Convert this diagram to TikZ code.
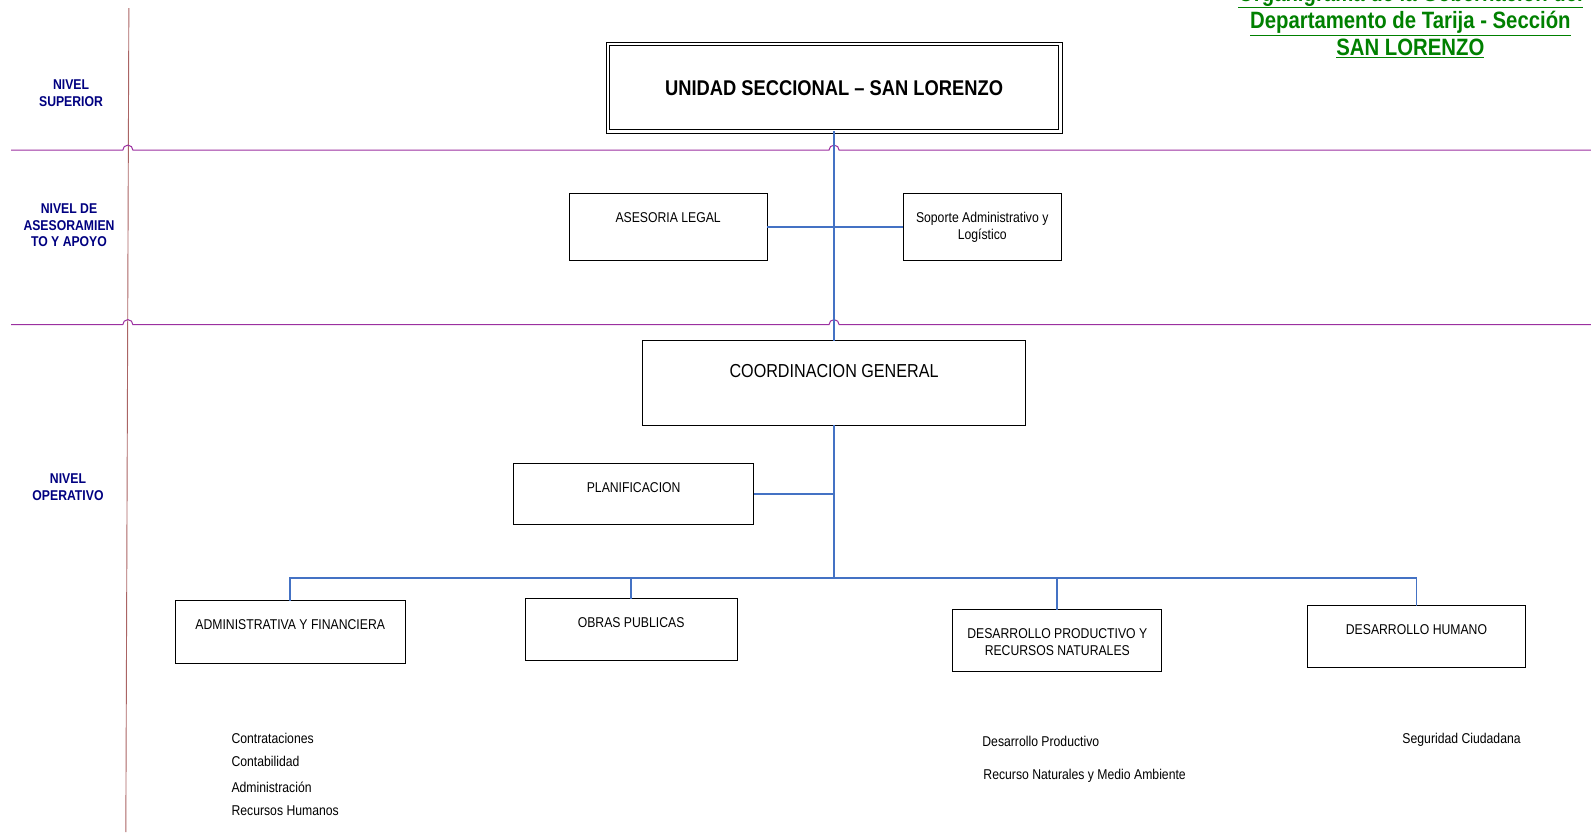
\documentclass[tikz,border=0pt]{standalone}
\usepackage{fontspec}
\setmainfont{Liberation Sans}[FakeStretch=0.86]
\usepackage{xcolor}
\usetikzlibrary{calc}
\definecolor{linkblue}{RGB}{68,114,196}
\definecolor{levelline}{RGB}{155,48,160}
\definecolor{sideline}{RGB}{170,100,100}
\definecolor{levelnavy}{RGB}{0,0,128}
\definecolor{titlegreen}{RGB}{0,128,0}

\begin{document}
\begin{tikzpicture}[x=1pt, y=-1pt,
  unit/.style={draw, line width=1pt, outer sep=0pt, inner sep=0pt},
  lbl/.style={anchor=north, yshift=-18pt, inner sep=0pt, align=center, font=\fontsize{14}{17}\selectfont},
  link/.style={draw=linkblue, line width=1.8pt},
  level/.style={font=\fontsize{14}{16.5}\selectfont\bfseries, text=levelnavy, align=center},
  item/.style={anchor=base west, inner sep=0pt, font=\fontsize{14}{16}\selectfont}]
  \useasboundingbox (0,0) rectangle (1568,820);
  \clip (0,0) rectangle (1568,820);

  % title
  \foreach \t/\y in {{Organigrama de la Gobernación del}/1, {Departamento de Tarija - Sección}/28, {SAN LORENZO}/55}
    \node[anchor=base, inner sep=0pt, text=titlegreen, font=\fontsize{23.3}{27}\selectfont\bfseries] at (1390,\y) {\underline{\t}};

  % level separators
  \draw[sideline, line width=0.9pt] (127,8) -- (124,820);
  \foreach \y in {148,320}
    \draw[levelline, line width=1pt] (11,\y) -- (121,\y) arc[start angle=180, end angle=0, radius=5pt]
      -- (817,\y) arc[start angle=180, end angle=0, radius=5pt] -- (1568,\y);

  \node[level] (nsup) at (70,92) {NIVEL\\SUPERIOR};
  \node[level] (nase) at (68,222) {NIVEL DE\\ASESORAMIEN\\TO Y APOYO};
  \node[level] (nope) at (67,480) {NIVEL\\OPERATIVO};

  % boxes
  \node[unit, double, double distance=2.5pt, minimum width=446pt, minimum height=86pt,
    font=\fontsize{21}{25}\selectfont\bfseries] (top) at (822,86.5) {UNIDAD SECCIONAL -- SAN LORENZO};
  \node[unit, minimum width=195pt, minimum height=66pt, label={[lbl]north:ASESORIA LEGAL}] (legal) at (658.5,224) {};
  \node[unit, minimum width=156pt, minimum height=66pt, label={[lbl]north:Soporte Administrativo y\\Logístico}] (soporte) at (968,224) {};
  \node[unit, minimum width=377pt, minimum height=83pt,
    label={[lbl, yshift=-5pt, font=\fontsize{18.5}{22}\selectfont]north:COORDINACION GENERAL}] (coord) at (822,377.5) {};
  \node[unit, minimum width=237pt, minimum height=60pt, label={[lbl]north:PLANIFICACION}] (plan) at (624.5,487) {};
  \node[unit, minimum width=227pt, minimum height=62pt, label={[lbl]north:ADMINISTRATIVA Y FINANCIERA}] (admin) at (286,623) {};
  \node[unit, minimum width=209pt, minimum height=61pt, label={[lbl]north:OBRAS PUBLICAS}] (obras) at (622,620.5) {};
  \node[unit, minimum width=206pt, minimum height=61pt, label={[lbl]north:DESARROLLO PRODUCTIVO Y\\RECURSOS NATURALES}] (desprod) at (1042,631.5) {};
  \node[unit, minimum width=214pt, minimum height=61pt, label={[lbl]north:DESARROLLO HUMANO}] (deshum) at (1396,627.5) {};

  % connectors
  \draw[link] (top.south) -- (coord.north);
  \draw[link] (legal.east) -- (soporte.west);
  \draw[link] (plan.east) -- (plan.east -| coord.south);
  \draw[link] (coord.south) -- (coord.south |- 0,570) coordinate (bus);
  \foreach \n in {admin,obras,desprod,deshum}
    \draw[link] (bus) -| (\n.north);

  % sub units
  \node[item] (contrat) at (228,733) {Contrataciones};
  \node[item] (contab) at (228,755) {Contabilidad};
  \node[item] (adm) at (228,781) {Administración};
  \node[item] (rrhh) at (228,804) {Recursos Humanos};
  \node[item] (dprod) at (968,736) {Desarrollo Productivo};
  \node[item] (rnat) at (969,768) {Recurso Naturales y Medio Ambiente};
  \node[item] (segur) at (1382,733) {Seguridad Ciudadana};
\end{tikzpicture}
\end{document}
